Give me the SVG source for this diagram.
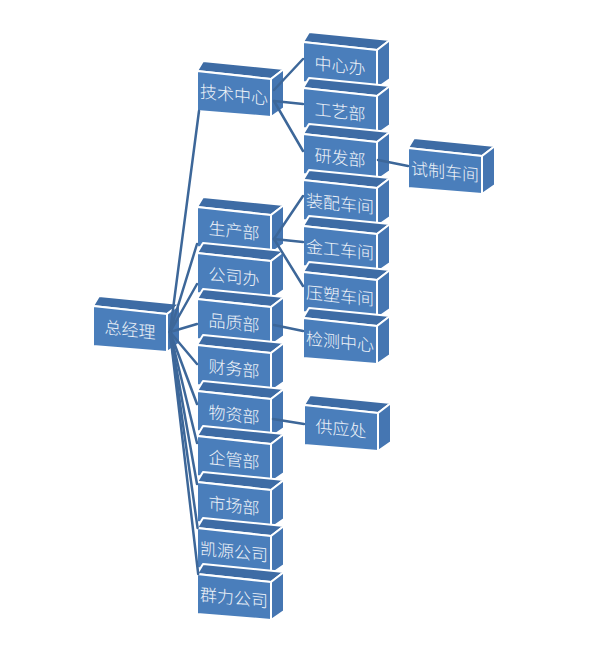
<svg xmlns="http://www.w3.org/2000/svg" xmlns:xlink="http://www.w3.org/1999/xlink" width="594" height="655" viewBox="0 0 594 655">
<style>
.front{fill:#4A7EBB;stroke:#fff;stroke-width:2;stroke-linejoin:round}
.top{fill:#3E6CA5;stroke:#fff;stroke-width:2;stroke-linejoin:round}
.side{fill:#4576B2;stroke:#fff;stroke-width:2;stroke-linejoin:round}
.t{font-family:"Noto Sans CJK SC","Noto Sans CJK JP",sans-serif;font-size:17px;font-weight:300;fill:#EEF2F8;text-anchor:middle}
.c{stroke:#3D6799;stroke-width:2.5;fill:none;stroke-linecap:round}
</style>
<defs>
<g id="box">
<polygon class="top" points="0,0 74,8 87,-2 6,-10"/>
<polygon class="side" points="74,8 87,-2 87,37 74,46"/>
<polygon class="front" points="0,0 74,8 74,46 0,40"/>
</g>
</defs>
<rect width="594" height="655" fill="#fff"/>
<g id="n-zongjingli"><use xlink:href="#box" x="93" y="306"/><text class="t" transform="translate(130,330) skewY(6)" y="6">总经理</text></g>
<g id="n-jishuzhongxin"><use xlink:href="#box" x="197" y="71"/><text class="t" transform="translate(234,95) skewY(6)" y="6">技术中心</text></g>
<g id="n-shengchanbu"><use xlink:href="#box" x="197" y="207"/><text class="t" transform="translate(234,231) skewY(6)" y="6">生产部</text></g>
<g id="n-gongsiban"><use xlink:href="#box" x="197" y="253"/><text class="t" transform="translate(234,277) skewY(6)" y="6">公司办</text></g>
<g id="n-pinzhibu"><use xlink:href="#box" x="197" y="299"/><text class="t" transform="translate(234,323) skewY(6)" y="6">品质部</text></g>
<g id="n-caiwubu"><use xlink:href="#box" x="197" y="345"/><text class="t" transform="translate(234,369) skewY(6)" y="6">财务部</text></g>
<g id="n-wuzibu"><use xlink:href="#box" x="197" y="391"/><text class="t" transform="translate(234,415) skewY(6)" y="6">物资部</text></g>
<g id="n-qiguanbu"><use xlink:href="#box" x="197" y="436"/><text class="t" transform="translate(234,460) skewY(6)" y="6">企管部</text></g>
<g id="n-shichangbu"><use xlink:href="#box" x="197" y="482"/><text class="t" transform="translate(234,506) skewY(6)" y="6">市场部</text></g>
<g id="n-kaiyuan"><use xlink:href="#box" x="197" y="528"/><text class="t" transform="translate(234,552) skewY(6)" y="6">凯源公司</text></g>
<g id="n-qunli"><use xlink:href="#box" x="197" y="574"/><text class="t" transform="translate(234,598) skewY(6)" y="6">群力公司</text></g>
<g id="n-zhongxinban"><use xlink:href="#box" x="303" y="42"/><text class="t" transform="translate(340,66) skewY(6)" y="6">中心办</text></g>
<g id="n-gongyibu"><use xlink:href="#box" x="303" y="88"/><text class="t" transform="translate(340,112) skewY(6)" y="6">工艺部</text></g>
<g id="n-yanfabu"><use xlink:href="#box" x="303" y="134"/><text class="t" transform="translate(340,158) skewY(6)" y="6">研发部</text></g>
<g id="n-zhuangpei"><use xlink:href="#box" x="303" y="180"/><text class="t" transform="translate(340,204) skewY(6)" y="6">装配车间</text></g>
<g id="n-jingong"><use xlink:href="#box" x="303" y="226"/><text class="t" transform="translate(340,250) skewY(6)" y="6">金工车间</text></g>
<g id="n-yasu"><use xlink:href="#box" x="303" y="272"/><text class="t" transform="translate(340,296) skewY(6)" y="6">压塑车间</text></g>
<g id="n-jiance"><use xlink:href="#box" x="303" y="318"/><text class="t" transform="translate(340,342) skewY(6)" y="6">检测中心</text></g>
<g id="n-gongyingchu"><use xlink:href="#box" x="304" y="405"/><text class="t" transform="translate(341,429) skewY(6)" y="6">供应处</text></g>
<g id="n-shizhi"><use xlink:href="#box" x="408" y="148"/><text class="t" transform="translate(445,172) skewY(6)" y="6">试制车间</text></g>
<g id="connectors">
<line class="c" x1="170" y1="332" x2="199" y2="111"/>
<line class="c" x1="170" y1="332" x2="197" y2="244"/>
<line class="c" x1="170" y1="332" x2="197" y2="284"/>
<line class="c" x1="170" y1="332" x2="197" y2="324"/>
<line class="c" x1="170" y1="332" x2="197" y2="364"/>
<line class="c" x1="170" y1="332" x2="197" y2="404"/>
<line class="c" x1="170" y1="332" x2="197" y2="443"/>
<line class="c" x1="170" y1="332" x2="197" y2="484"/>
<line class="c" x1="170" y1="332" x2="197.6" y2="528"/>
<line class="c" x1="170" y1="332" x2="198.2" y2="574"/>
<line class="c" x1="274" y1="90" x2="303" y2="59"/>
<line class="c" x1="274" y1="101" x2="303" y2="104"/>
<line class="c" x1="274" y1="101" x2="303" y2="151"/>
<line class="c" x1="274" y1="239" x2="303" y2="196"/>
<line class="c" x1="274" y1="239" x2="303" y2="242"/>
<line class="c" x1="274" y1="239" x2="303" y2="286"/>
<line class="c" x1="274" y1="325" x2="303" y2="331"/>
<line class="c" x1="273" y1="419" x2="304" y2="424"/>
<line class="c" x1="378" y1="160" x2="408" y2="166"/>
</g>
</svg>
